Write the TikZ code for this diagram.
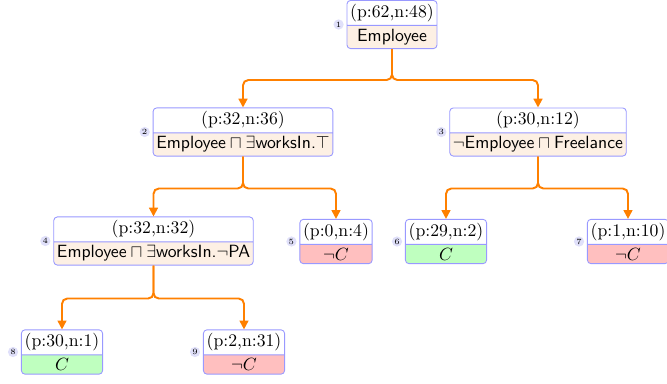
\documentclass[tikz,border=0pt]{standalone}
\usetikzlibrary{shapes.multipart,arrows.meta,positioning}
\definecolor{bord}{RGB}{153,153,255}
\definecolor{innerc}{RGB}{253,240,228}
\definecolor{posc}{RGB}{191,255,191}
\definecolor{negc}{RGB}{255,191,191}
\definecolor{edgec}{RGB}{255,128,0}
\definecolor{numc}{RGB}{224,224,250}
\tikzset{
 tnode/.style={rectangle split, rectangle split parts=2, draw=bord, rounded corners=2pt,
   inner xsep=1.8pt, inner ysep=1.8pt, line width=0.5pt},
 inode/.style={tnode, rectangle split part fill={white,innerc}},
 pnode/.style={tnode, rectangle split part fill={white,posc}},
 nnode/.style={tnode, rectangle split part fill={white,negc}},
 num/.style={circle, fill=numc, inner sep=0pt, minimum size=5.8pt, font=\fontsize{4.5}{4.5}\selectfont},
 edge/.style={draw=edgec, line width=1.1pt, rounded corners=3pt, -{Triangle[length=5pt,width=5pt]}},
}
\begin{document}
\begin{tikzpicture}[x=0.565pt,y=-0.565pt]
\useasboundingbox (0,0) rectangle (667,383);
\node[inode] (a1) at (392,24.5) {(p:62,n:48)\nodepart{two}\textsf{Employee}};
\node[inode] (a2) at (243,132) {(p:32,n:36)\nodepart{two}$\textsf{Employee}\sqcap\exists\textsf{worksIn.}\top$};
\node[inode] (a3) at (538,132) {(p:30,n:12)\nodepart{two}$\neg\textsf{Employee}\sqcap\textsf{Freelance}$};
\node[inode] (a4) at (153.5,241) {(p:32,n:32)\nodepart{two}$\textsf{Employee}\sqcap\exists\textsf{worksIn.}\neg\textsf{PA}$};
\node[nnode] (a5) at (336,241.5) {(p:0,n:4)\nodepart{two}$\neg C$};
\node[pnode] (a6) at (446,241.5) {(p:29,n:2)\nodepart{two}$C$};
\node[nnode] (a7) at (628,241.5) {(p:1,n:10)\nodepart{two}$\neg C$};
\node[pnode] (a8) at (62,352) {(p:30,n:1)\nodepart{two}$C$};
\node[nnode] (a9) at (244,352) {(p:2,n:31)\nodepart{two}$\neg C$};
\foreach \i in {1,...,9}{
  \node[num, left=1.4pt of a\i.west] (n\i) {\i};
}
\draw[edge] (a1.south) -- ++(0,31) -| (a2.north);
\draw[edge] (a1.south) -- ++(0,31) -| (a3.north);
\draw[edge] (a2.south) -- ++(0,32) -| (a4.north);
\draw[edge] (a2.south) -- ++(0,32) -| (a5.north);
\draw[edge] (a3.south) -- ++(0,32) -| (a6.north);
\draw[edge] (a3.south) -- ++(0,32) -| (a7.north);
\draw[edge] (a4.south) -- ++(0,33) -| (a8.north);
\draw[edge] (a4.south) -- ++(0,33) -| (a9.north);
\end{tikzpicture}
\end{document}
